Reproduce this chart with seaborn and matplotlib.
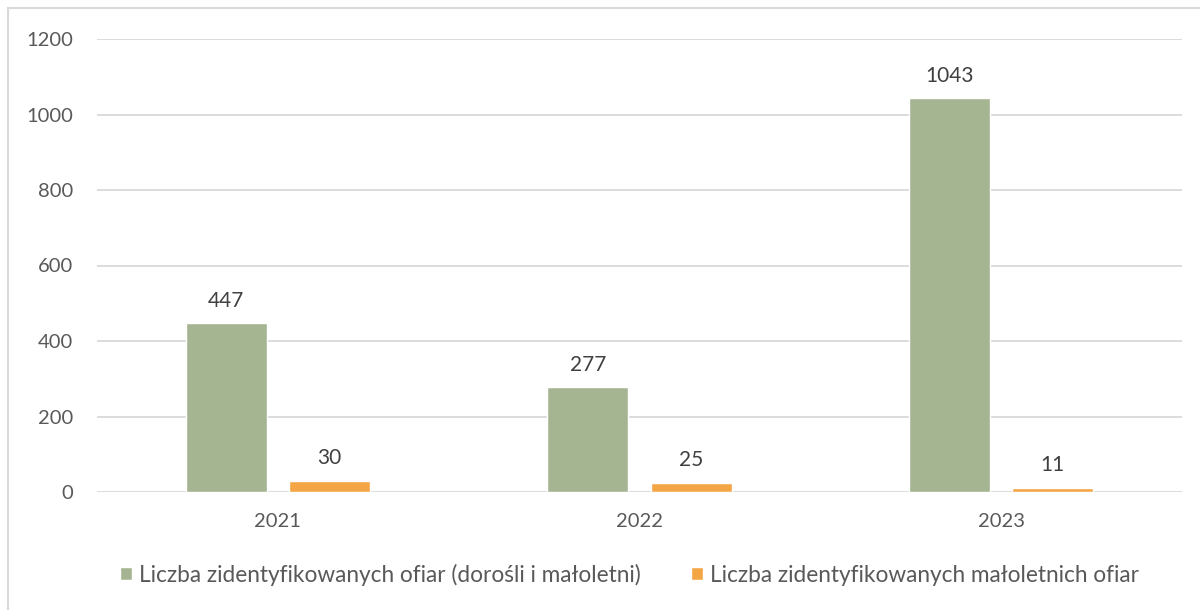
import pandas as pd
import matplotlib.pyplot as plt
import seaborn as sns
from matplotlib.patches import Rectangle

years = ['2021', '2022', '2023']
all_victims = [447, 277, 1043]
minor_victims = [30, 25, 11]
series_names = ['Liczba zidentyfikowanych ofiar (dorośli i małoletni)',
                'Liczba zidentyfikowanych małoletnich ofiar']
colors = ['#A5B592', '#F4A646']

df = pd.DataFrame({
    'year': years * 2,
    'value': all_victims + minor_victims,
    'series': [series_names[0]] * 3 + [series_names[1]] * 3,
})

sns.set_style('white')
plt.rcParams['font.family'] = ['Lato', 'DejaVu Sans']

fig = plt.figure(figsize=(12, 6.1), dpi=100)
ax = fig.add_axes([97 / 1200, 1 - 492 / 610, 1085 / 1200, 453 / 610])

sns.barplot(data=df, x='year', y='value', hue='series', palette=colors,
            width=0.57, gap=0.214, ax=ax, saturation=1)

for c in ax.containers:
    ax.bar_label(c, padding=9, fontsize=15, color='#404040')

ax.set_ylim(0, 1200)
ax.set_yticks(range(0, 1201, 200))
ax.set_xlim(-0.5, 2.5)
ax.yaxis.grid(True, color='#D9D9D9', linewidth=1.3)
ax.set_axisbelow(True)
for s in ax.spines.values():
    s.set_visible(False)
ax.tick_params(axis='both', length=0, labelsize=14.5, labelcolor='#595959')
ax.tick_params(axis='y', pad=17)
ax.tick_params(axis='x', pad=15)
ax.set_xlabel('')
ax.set_ylabel('')

ax.legend(loc='upper center', bbox_to_anchor=(0.5 - 10 / 1085, -0.113), ncol=2,
          frameon=False, fontsize=16.3, handlelength=0.55, handleheight=0.55,
          handletextpad=0.3, columnspacing=2.2, labelcolor='#595959')

# outer chart border
fig.patches.append(Rectangle((8 / 1200, -0.1), 1.2, 1 - 8 / 610 + 0.1,
                             transform=fig.transFigure, fill=False,
                             edgecolor='#D9D9D9', linewidth=1.5))

plt.savefig('out.png', dpi=100)
